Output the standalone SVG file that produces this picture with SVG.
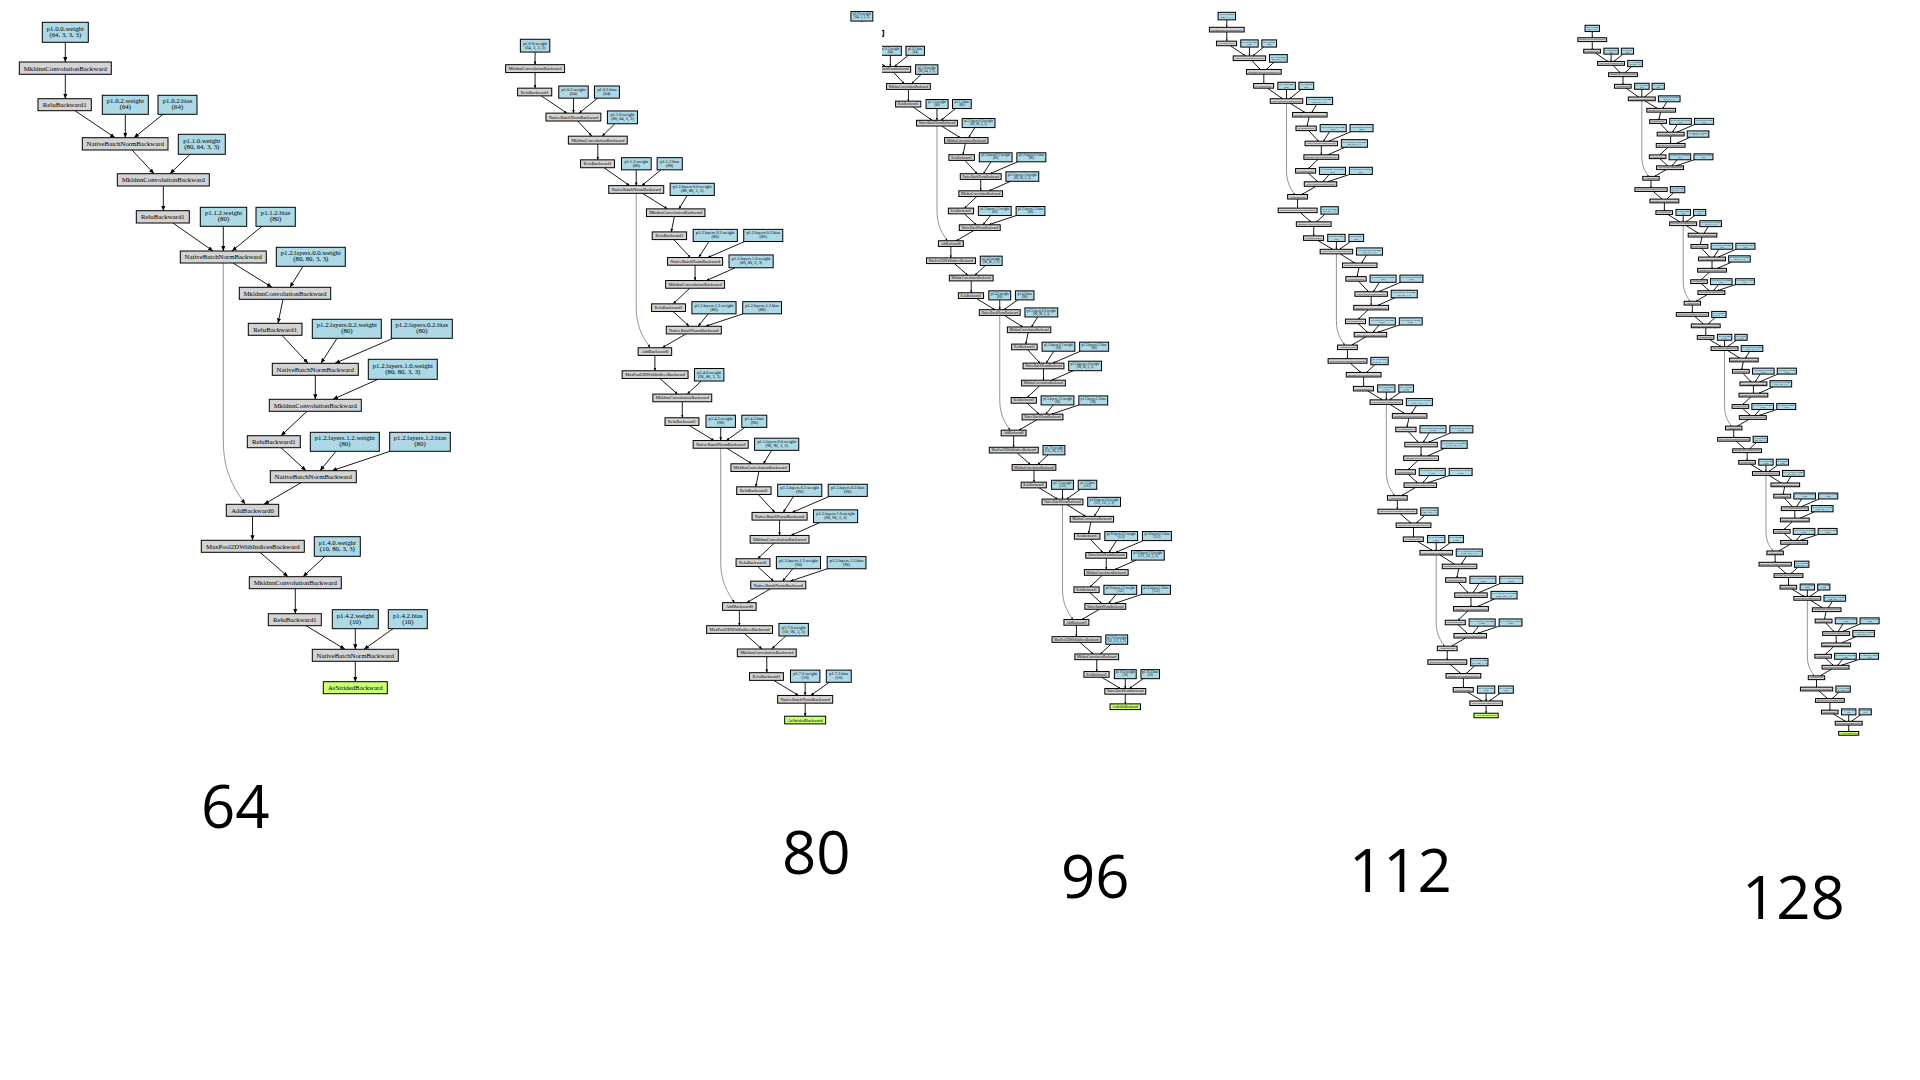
<svg xmlns="http://www.w3.org/2000/svg" xmlns:xlink="http://www.w3.org/1999/xlink" width="1920" height="1080" viewBox="0 0 1920 1080">
<style>
.o rect{fill:#d3d3d3;stroke:#000}
.p rect{fill:#add8e6;stroke:#000}
.a rect{fill:#caff70;stroke:#000}
text{font-family:"Liberation Serif","Times New Roman",serif;font-size:6.8px;text-anchor:middle;fill:#000}
text.num{font-family:"Open Sans","Noto Sans",sans-serif;font-size:60px;text-anchor:start}
</style>
<defs>
<marker id="ah" markerUnits="userSpaceOnUse" markerWidth="6" markerHeight="5" refX="5" refY="2.1" orient="auto"><path d="M0,0L5,2.1L0,4.2z" fill="#000" stroke="none"/></marker>
<clipPath id="clip3"><rect x="0" y="0" width="1920" height="22"/><rect x="882" y="0" width="1038" height="1080"/></clipPath>
<g id="EA" fill="none" stroke="#000" marker-end="url(#ah)">
<path d="M65.3,42.3V62"/><path d="M65.3,74.3V98.7"/><path d="M75,110.7L115,137.7"/><path d="M125.3,114.3V137.7"/><path d="M163,114.3L134,137.7"/><path d="M132,150L154,173.7"/><path d="M190,154.3L170,173.7"/><path d="M163.3,186V210.7"/><path d="M173,223L213,251"/><path d="M223.3,226.3V251"/><path d="M262,226.3L232,251"/>
</g>
<g id="EU" fill="none" stroke="#000" marker-end="url(#ah)">
<path d="M233,263L272,287.3"/><path d="M303,266.3L290,287.3"/><path d="M283,299.3L278,323.3"/><path d="M282,335.3L308,363.3"/><path d="M337,338.3L321,363.3"/><path d="M393,338.3L335,363.3"/><path d="M315.3,375.3V399.3"/><path d="M378,379.3L333,399.3"/><path d="M307,411.3L281,435.7"/><path d="M281,447.7L306,470.7"/><path d="M336,451.3L320,470.7"/><path d="M390,451.3L332,470.7"/><path d="M301,482.7L264,504.3"/><path stroke="#888" d="M223.3,263V440C223.3,475 236,490 245,504.3"/><path d="M252.5,516.3V540.3"/><path d="M260,552.3L288,576.7"/><path d="M325,556.3L303,576.7"/><path d="M295.3,588.7V613.7"/><path d="M306,625.7L345,649.3"/><path d="M355.3,628.7V649.3"/><path d="M393,628.7L364,649.3"/>
</g>
<g id="EF" fill="none" stroke="#000" marker-end="url(#ah)"><path d="M355.3,661.3V681.7"/></g>
</defs>
<rect x="0" y="0" width="1920" height="1080" fill="#fff"/>

<!-- ================= GRAPH 1 (64) ================= -->
<g id="graph64">
<g id="g1-edges" fill="none" stroke="#000" stroke-width="0.9" marker-end="url(#ah)">
<use xlink:href="#EA"/><use xlink:href="#EU"/><use xlink:href="#EF"/>
</g>
<g id="g1-nodes" stroke-width="1">
<g id="g1-w0" class="p"><rect x="42.3" y="22.3" width="46" height="20"/><text x="65.3" y="30.5">p1.0.0.weight</text><text x="65.3" y="36.8">(64, 3, 3, 3)</text></g>
<g id="g1-c1" class="o"><rect x="19.3" y="62" width="92" height="12.3"/><text x="65.3" y="70.5">MkldnnConvolutionBackward</text></g>
<g id="g1-r1" class="o"><rect x="38" y="98.7" width="53.3" height="12"/><text x="64.7" y="107.1">ReluBackward1</text></g>
<g id="g1-w1" class="p"><rect x="102.3" y="95.3" width="46" height="19"/><text x="125.3" y="103.1">p1.0.2.weight</text><text x="125.3" y="109.4">(64)</text></g>
<g id="g1-b1" class="p"><rect x="158" y="95.3" width="39" height="19"/><text x="177.5" y="103.1">p1.0.2.bias</text><text x="177.5" y="109.4">(64)</text></g>
<g id="g1-n1" class="o"><rect x="82.3" y="137.7" width="85.7" height="12.3"/><text x="125.2" y="146.1">NativeBatchNormBackward</text></g>
<g id="g1-w2" class="p"><rect x="178.3" y="134.3" width="47" height="20"/><text x="201.8" y="142.5">p1.1.0.weight</text><text x="201.8" y="148.8">(80, 64, 3, 3)</text></g>
<g id="g1-c2" class="o"><rect x="117.3" y="173.7" width="92" height="12.3"/><text x="163.3" y="182.1">MkldnnConvolutionBackward</text></g>
<g id="g1-r2" class="o"><rect x="136.3" y="210.7" width="53" height="12.3"/><text x="162.8" y="219.1">ReluBackward1</text></g>
<g id="g1-w3" class="p"><rect x="200.3" y="207.3" width="46.4" height="19"/><text x="223.5" y="215.1">p1.1.2.weight</text><text x="223.5" y="221.4">(80)</text></g>
<g id="g1-b3" class="p"><rect x="256" y="207.3" width="39.3" height="19"/><text x="275.6" y="215.1">p1.1.2.bias</text><text x="275.6" y="221.4">(80)</text></g>
<g id="g1-n2" class="o"><rect x="180.3" y="251" width="86" height="12"/><text x="223.3" y="259.4">NativeBatchNormBackward</text></g>
<g id="g1-u0">
<g id="g1-u0-w4" class="p"><rect x="276.3" y="247.3" width="69" height="19"/><text x="310.8" y="255.1">p1.2.layers.0.0.weight</text><text x="310.8" y="261.4">(80, 80, 3, 3)</text></g>
<g id="g1-u0-c3" class="o"><rect x="239.3" y="287.3" width="91.4" height="12"/><text x="285" y="295.7">MkldnnConvolutionBackward</text></g>
<g id="g1-u0-r3" class="o"><rect x="248.3" y="323.3" width="53.7" height="12"/><text x="275.2" y="331.7">ReluBackward1</text></g>
<g id="g1-u0-w5" class="p"><rect x="312.3" y="319.3" width="69" height="19"/><text x="346.8" y="327.1">p1.2.layers.0.2.weight</text><text x="346.8" y="333.4">(80)</text></g>
<g id="g1-u0-b5" class="p"><rect x="391.3" y="319.3" width="61" height="19"/><text x="421.8" y="327.1">p1.2.layers.0.2.bias</text><text x="421.8" y="333.4">(80)</text></g>
<g id="g1-u0-n3" class="o"><rect x="272.3" y="363.3" width="86" height="12"/><text x="315.3" y="371.7">NativeBatchNormBackward</text></g>
<g id="g1-u0-w6" class="p"><rect x="368.3" y="359.3" width="69" height="20"/><text x="402.8" y="367.5">p1.2.layers.1.0.weight</text><text x="402.8" y="373.8">(80, 80, 3, 3)</text></g>
<g id="g1-u0-c4" class="o"><rect x="269.3" y="399.3" width="92" height="12"/><text x="315.3" y="407.7">MkldnnConvolutionBackward</text></g>
<g id="g1-u0-r4" class="o"><rect x="247.3" y="435.7" width="53" height="12"/><text x="273.8" y="444.1">ReluBackward1</text></g>
<g id="g1-u0-w7" class="p"><rect x="310.3" y="432.3" width="69" height="19"/><text x="344.8" y="440.1">p1.2.layers.1.2.weight</text><text x="344.8" y="446.4">(80)</text></g>
<g id="g1-u0-b7" class="p"><rect x="389.7" y="432.3" width="60.6" height="19"/><text x="420" y="440.1">p1.2.layers.1.2.bias</text><text x="420" y="446.4">(80)</text></g>
<g id="g1-u0-n4" class="o"><rect x="270.3" y="470.7" width="86" height="12"/><text x="313.3" y="479.1">NativeBatchNormBackward</text></g>
<g id="g1-u0-add" class="o"><rect x="226.3" y="504.3" width="52.4" height="12"/><text x="252.5" y="512.7">AddBackward0</text></g>
<g id="g1-u0-mp" class="o"><rect x="201.3" y="540.3" width="103" height="12"/><text x="252.8" y="548.7">MaxPool2DWithIndicesBackward</text></g>
<g id="g1-u0-w8" class="p"><rect x="314.3" y="536.7" width="46" height="19.6"/><text x="337.3" y="544.7">p1.4.0.weight</text><text x="337.3" y="551">(10, 80, 3, 3)</text></g>
<g id="g1-u0-c5" class="o"><rect x="249.3" y="576.7" width="92" height="12"/><text x="295.3" y="585.1">MkldnnConvolutionBackward</text></g>
<g id="g1-u0-r5" class="o"><rect x="268.3" y="613.7" width="53" height="12"/><text x="294.8" y="622.1">ReluBackward1</text></g>
<g id="g1-u0-w9" class="p"><rect x="332.3" y="609.7" width="46" height="19"/><text x="355.3" y="617.5">p1.4.2.weight</text><text x="355.3" y="623.8">(10)</text></g>
<g id="g1-u0-b9" class="p"><rect x="388.3" y="609.7" width="39" height="19"/><text x="407.8" y="617.5">p1.4.2.bias</text><text x="407.8" y="623.8">(10)</text></g>
<g id="g1-u0-n5" class="o"><rect x="312.3" y="649.3" width="86" height="12"/><text x="355.3" y="657.7">NativeBatchNormBackward</text></g>
<g id="g1-as" class="a"><rect x="323.3" y="681.7" width="64" height="12"/><text x="355.3" y="690.1">AsStridedBackward</text></g>
</g>
</g>
</g>

<!-- ================= GRAPH 2 (80) ================= -->
<g id="graph80" transform="translate(493.3,25) scale(0.64)">
<g id="g2-edges" fill="none" stroke="#000" stroke-width="1.4" marker-end="url(#ah)">
<use xlink:href="#EA"/><use xlink:href="#EU"/><use xlink:href="#EU" transform="translate(132,398.3)"/><use xlink:href="#EF" transform="translate(132,398.3)"/>
</g>
<g id="g2-nodes" stroke-width="1.56">
<g id="g2-w0" class="p"><rect x="42.3" y="22.3" width="46" height="20"/><text x="65.3" y="30.5">p1.0.0.weight</text><text x="65.3" y="36.8">(64, 3, 3, 3)</text></g>
<g id="g2-c1" class="o"><rect x="19.3" y="62" width="92" height="12.3"/><text x="65.3" y="70.5">MkldnnConvolutionBackward</text></g>
<g id="g2-r1" class="o"><rect x="38" y="98.7" width="53.3" height="12"/><text x="64.7" y="107.1">ReluBackward1</text></g>
<g id="g2-w1" class="p"><rect x="102.3" y="95.3" width="46" height="19"/><text x="125.3" y="103.1">p1.0.2.weight</text><text x="125.3" y="109.4">(64)</text></g>
<g id="g2-b1" class="p"><rect x="158" y="95.3" width="39" height="19"/><text x="177.5" y="103.1">p1.0.2.bias</text><text x="177.5" y="109.4">(64)</text></g>
<g id="g2-n1" class="o"><rect x="82.3" y="137.7" width="85.7" height="12.3"/><text x="125.2" y="146.1">NativeBatchNormBackward</text></g>
<g id="g2-w2" class="p"><rect x="178.3" y="134.3" width="47" height="20"/><text x="201.8" y="142.5">p1.1.0.weight</text><text x="201.8" y="148.8">(80, 64, 3, 3)</text></g>
<g id="g2-c2" class="o"><rect x="117.3" y="173.7" width="92" height="12.3"/><text x="163.3" y="182.1">MkldnnConvolutionBackward</text></g>
<g id="g2-r2" class="o"><rect x="136.3" y="210.7" width="53" height="12.3"/><text x="162.8" y="219.1">ReluBackward1</text></g>
<g id="g2-w3" class="p"><rect x="200.3" y="207.3" width="46.4" height="19"/><text x="223.5" y="215.1">p1.1.2.weight</text><text x="223.5" y="221.4">(80)</text></g>
<g id="g2-b3" class="p"><rect x="256" y="207.3" width="39.3" height="19"/><text x="275.6" y="215.1">p1.1.2.bias</text><text x="275.6" y="221.4">(80)</text></g>
<g id="g2-n2" class="o"><rect x="180.3" y="251" width="86" height="12"/><text x="223.3" y="259.4">NativeBatchNormBackward</text></g>
<g id="g2-u0">
<g id="g2-u0-w4" class="p"><rect x="276.3" y="247.3" width="69" height="19"/><text x="310.8" y="255.1">p1.2.layers.0.0.weight</text><text x="310.8" y="261.4">(80, 80, 3, 3)</text></g>
<g id="g2-u0-c3" class="o"><rect x="239.3" y="287.3" width="91.4" height="12"/><text x="285" y="295.7">MkldnnConvolutionBackward</text></g>
<g id="g2-u0-r3" class="o"><rect x="248.3" y="323.3" width="53.7" height="12"/><text x="275.2" y="331.7">ReluBackward1</text></g>
<g id="g2-u0-w5" class="p"><rect x="312.3" y="319.3" width="69" height="19"/><text x="346.8" y="327.1">p1.2.layers.0.2.weight</text><text x="346.8" y="333.4">(80)</text></g>
<g id="g2-u0-b5" class="p"><rect x="391.3" y="319.3" width="61" height="19"/><text x="421.8" y="327.1">p1.2.layers.0.2.bias</text><text x="421.8" y="333.4">(80)</text></g>
<g id="g2-u0-n3" class="o"><rect x="272.3" y="363.3" width="86" height="12"/><text x="315.3" y="371.7">NativeBatchNormBackward</text></g>
<g id="g2-u0-w6" class="p"><rect x="368.3" y="359.3" width="69" height="20"/><text x="402.8" y="367.5">p1.2.layers.1.0.weight</text><text x="402.8" y="373.8">(80, 80, 3, 3)</text></g>
<g id="g2-u0-c4" class="o"><rect x="269.3" y="399.3" width="92" height="12"/><text x="315.3" y="407.7">MkldnnConvolutionBackward</text></g>
<g id="g2-u0-r4" class="o"><rect x="247.3" y="435.7" width="53" height="12"/><text x="273.8" y="444.1">ReluBackward1</text></g>
<g id="g2-u0-w7" class="p"><rect x="310.3" y="432.3" width="69" height="19"/><text x="344.8" y="440.1">p1.2.layers.1.2.weight</text><text x="344.8" y="446.4">(80)</text></g>
<g id="g2-u0-b7" class="p"><rect x="389.7" y="432.3" width="60.6" height="19"/><text x="420" y="440.1">p1.2.layers.1.2.bias</text><text x="420" y="446.4">(80)</text></g>
<g id="g2-u0-n4" class="o"><rect x="270.3" y="470.7" width="86" height="12"/><text x="313.3" y="479.1">NativeBatchNormBackward</text></g>
<g id="g2-u0-add" class="o"><rect x="226.3" y="504.3" width="52.4" height="12"/><text x="252.5" y="512.7">AddBackward0</text></g>
<g id="g2-u0-mp" class="o"><rect x="201.3" y="540.3" width="103" height="12"/><text x="252.8" y="548.7">MaxPool2DWithIndicesBackward</text></g>
<g id="g2-u0-w8" class="p"><rect x="314.3" y="536.7" width="46" height="19.6"/><text x="337.3" y="544.7">p1.4.0.weight</text><text x="337.3" y="551">(96, 80, 3, 3)</text></g>
<g id="g2-u0-c5" class="o"><rect x="249.3" y="576.7" width="92" height="12"/><text x="295.3" y="585.1">MkldnnConvolutionBackward</text></g>
<g id="g2-u0-r5" class="o"><rect x="268.3" y="613.7" width="53" height="12"/><text x="294.8" y="622.1">ReluBackward1</text></g>
<g id="g2-u0-w9" class="p"><rect x="332.3" y="609.7" width="46" height="19"/><text x="355.3" y="617.5">p1.4.2.weight</text><text x="355.3" y="623.8">(96)</text></g>
<g id="g2-u0-b9" class="p"><rect x="388.3" y="609.7" width="39" height="19"/><text x="407.8" y="617.5">p1.4.2.bias</text><text x="407.8" y="623.8">(96)</text></g>
<g id="g2-u0-n5" class="o"><rect x="312.3" y="649.3" width="86" height="12"/><text x="355.3" y="657.7">NativeBatchNormBackward</text></g>
</g>
<g id="g2-u1" transform="translate(132,398.3)">
<g id="g2-u1-w4" class="p"><rect x="276.3" y="247.3" width="69" height="19"/><text x="310.8" y="255.1">p1.5.layers.0.0.weight</text><text x="310.8" y="261.4">(96, 96, 3, 3)</text></g>
<g id="g2-u1-c3" class="o"><rect x="239.3" y="287.3" width="91.4" height="12"/><text x="285" y="295.7">MkldnnConvolutionBackward</text></g>
<g id="g2-u1-r3" class="o"><rect x="248.3" y="323.3" width="53.7" height="12"/><text x="275.2" y="331.7">ReluBackward1</text></g>
<g id="g2-u1-w5" class="p"><rect x="312.3" y="319.3" width="69" height="19"/><text x="346.8" y="327.1">p1.5.layers.0.2.weight</text><text x="346.8" y="333.4">(96)</text></g>
<g id="g2-u1-b5" class="p"><rect x="391.3" y="319.3" width="61" height="19"/><text x="421.8" y="327.1">p1.5.layers.0.2.bias</text><text x="421.8" y="333.4">(96)</text></g>
<g id="g2-u1-n3" class="o"><rect x="272.3" y="363.3" width="86" height="12"/><text x="315.3" y="371.7">NativeBatchNormBackward</text></g>
<g id="g2-u1-w6" class="p"><rect x="368.3" y="359.3" width="69" height="20"/><text x="402.8" y="367.5">p1.5.layers.1.0.weight</text><text x="402.8" y="373.8">(96, 96, 3, 3)</text></g>
<g id="g2-u1-c4" class="o"><rect x="269.3" y="399.3" width="92" height="12"/><text x="315.3" y="407.7">MkldnnConvolutionBackward</text></g>
<g id="g2-u1-r4" class="o"><rect x="247.3" y="435.7" width="53" height="12"/><text x="273.8" y="444.1">ReluBackward1</text></g>
<g id="g2-u1-w7" class="p"><rect x="310.3" y="432.3" width="69" height="19"/><text x="344.8" y="440.1">p1.5.layers.1.2.weight</text><text x="344.8" y="446.4">(96)</text></g>
<g id="g2-u1-b7" class="p"><rect x="389.7" y="432.3" width="60.6" height="19"/><text x="420" y="440.1">p1.5.layers.1.2.bias</text><text x="420" y="446.4">(96)</text></g>
<g id="g2-u1-n4" class="o"><rect x="270.3" y="470.7" width="86" height="12"/><text x="313.3" y="479.1">NativeBatchNormBackward</text></g>
<g id="g2-u1-add" class="o"><rect x="226.3" y="504.3" width="52.4" height="12"/><text x="252.5" y="512.7">AddBackward0</text></g>
<g id="g2-u1-mp" class="o"><rect x="201.3" y="540.3" width="103" height="12"/><text x="252.8" y="548.7">MaxPool2DWithIndicesBackward</text></g>
<g id="g2-u1-w8" class="p"><rect x="314.3" y="536.7" width="46" height="19.6"/><text x="337.3" y="544.7">p1.7.0.weight</text><text x="337.3" y="551">(10, 96, 3, 3)</text></g>
<g id="g2-u1-c5" class="o"><rect x="249.3" y="576.7" width="92" height="12"/><text x="295.3" y="585.1">MkldnnConvolutionBackward</text></g>
<g id="g2-u1-r5" class="o"><rect x="268.3" y="613.7" width="53" height="12"/><text x="294.8" y="622.1">ReluBackward1</text></g>
<g id="g2-u1-w9" class="p"><rect x="332.3" y="609.7" width="46" height="19"/><text x="355.3" y="617.5">p1.7.2.weight</text><text x="355.3" y="623.8">(10)</text></g>
<g id="g2-u1-b9" class="p"><rect x="388.3" y="609.7" width="39" height="19"/><text x="407.8" y="617.5">p1.7.2.bias</text><text x="407.8" y="623.8">(10)</text></g>
<g id="g2-u1-n5" class="o"><rect x="312.3" y="649.3" width="86" height="12"/><text x="355.3" y="657.7">NativeBatchNormBackward</text></g>
<g id="g2-as" class="a"><rect x="323.3" y="681.7" width="64" height="12"/><text x="355.3" y="690.1">AsStridedBackward</text></g>
</g>
</g>
</g>

<!-- ================= GRAPH 3 (96) ================= -->
<g clip-path="url(#clip3)">
<g id="graph96" transform="translate(830.8,0.95) scale(0.4755)">
<g id="g3-edges" fill="none" stroke="#000" stroke-width="1.9" marker-end="url(#ah)">
<use xlink:href="#EA"/><use xlink:href="#EU"/><use xlink:href="#EU" transform="translate(132,398.3)"/><use xlink:href="#EU" transform="translate(264,796.6)"/><use xlink:href="#EF" transform="translate(264,796.6)"/>
</g>
<g id="g3-nodes" stroke-width="2.1">
<g id="g3-w0" class="p"><rect x="42.3" y="22.3" width="46" height="20"/><text x="65.3" y="30.5">p1.0.0.weight</text><text x="65.3" y="36.8">(64, 3, 3, 3)</text></g>
<g id="g3-c1" class="o"><rect x="19.3" y="62" width="92" height="12.3"/><text x="65.3" y="70.5">MkldnnConvolutionBackward</text></g>
<g id="g3-r1" class="o"><rect x="38" y="98.7" width="53.3" height="12"/><text x="64.7" y="107.1">ReluBackward1</text></g>
<g id="g3-w1" class="p"><rect x="102.3" y="95.3" width="46" height="19"/><text x="125.3" y="103.1">p1.0.2.weight</text><text x="125.3" y="109.4">(64)</text></g>
<g id="g3-b1" class="p"><rect x="158" y="95.3" width="39" height="19"/><text x="177.5" y="103.1">p1.0.2.bias</text><text x="177.5" y="109.4">(64)</text></g>
<g id="g3-n1" class="o"><rect x="82.3" y="137.7" width="85.7" height="12.3"/><text x="125.2" y="146.1">NativeBatchNormBackward</text></g>
<g id="g3-w2" class="p"><rect x="178.3" y="134.3" width="47" height="20"/><text x="201.8" y="142.5">p1.1.0.weight</text><text x="201.8" y="148.8">(80, 64, 3, 3)</text></g>
<g id="g3-c2" class="o"><rect x="117.3" y="173.7" width="92" height="12.3"/><text x="163.3" y="182.1">MkldnnConvolutionBackward</text></g>
<g id="g3-r2" class="o"><rect x="136.3" y="210.7" width="53" height="12.3"/><text x="162.8" y="219.1">ReluBackward1</text></g>
<g id="g3-w3" class="p"><rect x="200.3" y="207.3" width="46.4" height="19"/><text x="223.5" y="215.1">p1.1.2.weight</text><text x="223.5" y="221.4">(80)</text></g>
<g id="g3-b3" class="p"><rect x="256" y="207.3" width="39.3" height="19"/><text x="275.6" y="215.1">p1.1.2.bias</text><text x="275.6" y="221.4">(80)</text></g>
<g id="g3-n2" class="o"><rect x="180.3" y="251" width="86" height="12"/><text x="223.3" y="259.4">NativeBatchNormBackward</text></g>
<g id="g3-u0">
<g id="g3-u0-w4" class="p"><rect x="276.3" y="247.3" width="69" height="19"/><text x="310.8" y="255.1">p1.2.layers.0.0.weight</text><text x="310.8" y="261.4">(80, 80, 3, 3)</text></g>
<g id="g3-u0-c3" class="o"><rect x="239.3" y="287.3" width="91.4" height="12"/><text x="285" y="295.7">MkldnnConvolutionBackward</text></g>
<g id="g3-u0-r3" class="o"><rect x="248.3" y="323.3" width="53.7" height="12"/><text x="275.2" y="331.7">ReluBackward1</text></g>
<g id="g3-u0-w5" class="p"><rect x="312.3" y="319.3" width="69" height="19"/><text x="346.8" y="327.1">p1.2.layers.0.2.weight</text><text x="346.8" y="333.4">(80)</text></g>
<g id="g3-u0-b5" class="p"><rect x="391.3" y="319.3" width="61" height="19"/><text x="421.8" y="327.1">p1.2.layers.0.2.bias</text><text x="421.8" y="333.4">(80)</text></g>
<g id="g3-u0-n3" class="o"><rect x="272.3" y="363.3" width="86" height="12"/><text x="315.3" y="371.7">NativeBatchNormBackward</text></g>
<g id="g3-u0-w6" class="p"><rect x="368.3" y="359.3" width="69" height="20"/><text x="402.8" y="367.5">p1.2.layers.1.0.weight</text><text x="402.8" y="373.8">(80, 80, 3, 3)</text></g>
<g id="g3-u0-c4" class="o"><rect x="269.3" y="399.3" width="92" height="12"/><text x="315.3" y="407.7">MkldnnConvolutionBackward</text></g>
<g id="g3-u0-r4" class="o"><rect x="247.3" y="435.7" width="53" height="12"/><text x="273.8" y="444.1">ReluBackward1</text></g>
<g id="g3-u0-w7" class="p"><rect x="310.3" y="432.3" width="69" height="19"/><text x="344.8" y="440.1">p1.2.layers.1.2.weight</text><text x="344.8" y="446.4">(80)</text></g>
<g id="g3-u0-b7" class="p"><rect x="389.7" y="432.3" width="60.6" height="19"/><text x="420" y="440.1">p1.2.layers.1.2.bias</text><text x="420" y="446.4">(80)</text></g>
<g id="g3-u0-n4" class="o"><rect x="270.3" y="470.7" width="86" height="12"/><text x="313.3" y="479.1">NativeBatchNormBackward</text></g>
<g id="g3-u0-add" class="o"><rect x="226.3" y="504.3" width="52.4" height="12"/><text x="252.5" y="512.7">AddBackward0</text></g>
<g id="g3-u0-mp" class="o"><rect x="201.3" y="540.3" width="103" height="12"/><text x="252.8" y="548.7">MaxPool2DWithIndicesBackward</text></g>
<g id="g3-u0-w8" class="p"><rect x="314.3" y="536.7" width="46" height="19.6"/><text x="337.3" y="544.7">p1.4.0.weight</text><text x="337.3" y="551">(96, 80, 3, 3)</text></g>
<g id="g3-u0-c5" class="o"><rect x="249.3" y="576.7" width="92" height="12"/><text x="295.3" y="585.1">MkldnnConvolutionBackward</text></g>
<g id="g3-u0-r5" class="o"><rect x="268.3" y="613.7" width="53" height="12"/><text x="294.8" y="622.1">ReluBackward1</text></g>
<g id="g3-u0-w9" class="p"><rect x="332.3" y="609.7" width="46" height="19"/><text x="355.3" y="617.5">p1.4.2.weight</text><text x="355.3" y="623.8">(96)</text></g>
<g id="g3-u0-b9" class="p"><rect x="388.3" y="609.7" width="39" height="19"/><text x="407.8" y="617.5">p1.4.2.bias</text><text x="407.8" y="623.8">(96)</text></g>
<g id="g3-u0-n5" class="o"><rect x="312.3" y="649.3" width="86" height="12"/><text x="355.3" y="657.7">NativeBatchNormBackward</text></g>
</g>
<g id="g3-u1" transform="translate(132,398.3)">
<g id="g3-u1-w4" class="p"><rect x="276.3" y="247.3" width="69" height="19"/><text x="310.8" y="255.1">p1.5.layers.0.0.weight</text><text x="310.8" y="261.4">(96, 96, 3, 3)</text></g>
<g id="g3-u1-c3" class="o"><rect x="239.3" y="287.3" width="91.4" height="12"/><text x="285" y="295.7">MkldnnConvolutionBackward</text></g>
<g id="g3-u1-r3" class="o"><rect x="248.3" y="323.3" width="53.7" height="12"/><text x="275.2" y="331.7">ReluBackward1</text></g>
<g id="g3-u1-w5" class="p"><rect x="312.3" y="319.3" width="69" height="19"/><text x="346.8" y="327.1">p1.5.layers.0.2.weight</text><text x="346.8" y="333.4">(96)</text></g>
<g id="g3-u1-b5" class="p"><rect x="391.3" y="319.3" width="61" height="19"/><text x="421.8" y="327.1">p1.5.layers.0.2.bias</text><text x="421.8" y="333.4">(96)</text></g>
<g id="g3-u1-n3" class="o"><rect x="272.3" y="363.3" width="86" height="12"/><text x="315.3" y="371.7">NativeBatchNormBackward</text></g>
<g id="g3-u1-w6" class="p"><rect x="368.3" y="359.3" width="69" height="20"/><text x="402.8" y="367.5">p1.5.layers.1.0.weight</text><text x="402.8" y="373.8">(96, 96, 3, 3)</text></g>
<g id="g3-u1-c4" class="o"><rect x="269.3" y="399.3" width="92" height="12"/><text x="315.3" y="407.7">MkldnnConvolutionBackward</text></g>
<g id="g3-u1-r4" class="o"><rect x="247.3" y="435.7" width="53" height="12"/><text x="273.8" y="444.1">ReluBackward1</text></g>
<g id="g3-u1-w7" class="p"><rect x="310.3" y="432.3" width="69" height="19"/><text x="344.8" y="440.1">p1.5.layers.1.2.weight</text><text x="344.8" y="446.4">(96)</text></g>
<g id="g3-u1-b7" class="p"><rect x="389.7" y="432.3" width="60.6" height="19"/><text x="420" y="440.1">p1.5.layers.1.2.bias</text><text x="420" y="446.4">(96)</text></g>
<g id="g3-u1-n4" class="o"><rect x="270.3" y="470.7" width="86" height="12"/><text x="313.3" y="479.1">NativeBatchNormBackward</text></g>
<g id="g3-u1-add" class="o"><rect x="226.3" y="504.3" width="52.4" height="12"/><text x="252.5" y="512.7">AddBackward0</text></g>
<g id="g3-u1-mp" class="o"><rect x="201.3" y="540.3" width="103" height="12"/><text x="252.8" y="548.7">MaxPool2DWithIndicesBackward</text></g>
<g id="g3-u1-w8" class="p"><rect x="314.3" y="536.7" width="46" height="19.6"/><text x="337.3" y="544.7">p1.7.0.weight</text><text x="337.3" y="551">(112, 96, 3, 3)</text></g>
<g id="g3-u1-c5" class="o"><rect x="249.3" y="576.7" width="92" height="12"/><text x="295.3" y="585.1">MkldnnConvolutionBackward</text></g>
<g id="g3-u1-r5" class="o"><rect x="268.3" y="613.7" width="53" height="12"/><text x="294.8" y="622.1">ReluBackward1</text></g>
<g id="g3-u1-w9" class="p"><rect x="332.3" y="609.7" width="46" height="19"/><text x="355.3" y="617.5">p1.7.2.weight</text><text x="355.3" y="623.8">(112)</text></g>
<g id="g3-u1-b9" class="p"><rect x="388.3" y="609.7" width="39" height="19"/><text x="407.8" y="617.5">p1.7.2.bias</text><text x="407.8" y="623.8">(112)</text></g>
<g id="g3-u1-n5" class="o"><rect x="312.3" y="649.3" width="86" height="12"/><text x="355.3" y="657.7">NativeBatchNormBackward</text></g>
</g>
<g id="g3-u2" transform="translate(264,796.6)">
<g id="g3-u2-w4" class="p"><rect x="276.3" y="247.3" width="69" height="19"/><text x="310.8" y="255.1">p1.8.layers.0.0.weight</text><text x="310.8" y="261.4">(112, 112, 3, 3)</text></g>
<g id="g3-u2-c3" class="o"><rect x="239.3" y="287.3" width="91.4" height="12"/><text x="285" y="295.7">MkldnnConvolutionBackward</text></g>
<g id="g3-u2-r3" class="o"><rect x="248.3" y="323.3" width="53.7" height="12"/><text x="275.2" y="331.7">ReluBackward1</text></g>
<g id="g3-u2-w5" class="p"><rect x="312.3" y="319.3" width="69" height="19"/><text x="346.8" y="327.1">p1.8.layers.0.2.weight</text><text x="346.8" y="333.4">(112)</text></g>
<g id="g3-u2-b5" class="p"><rect x="391.3" y="319.3" width="61" height="19"/><text x="421.8" y="327.1">p1.8.layers.0.2.bias</text><text x="421.8" y="333.4">(112)</text></g>
<g id="g3-u2-n3" class="o"><rect x="272.3" y="363.3" width="86" height="12"/><text x="315.3" y="371.7">NativeBatchNormBackward</text></g>
<g id="g3-u2-w6" class="p"><rect x="368.3" y="359.3" width="69" height="20"/><text x="402.8" y="367.5">p1.8.layers.1.0.weight</text><text x="402.8" y="373.8">(112, 112, 3, 3)</text></g>
<g id="g3-u2-c4" class="o"><rect x="269.3" y="399.3" width="92" height="12"/><text x="315.3" y="407.7">MkldnnConvolutionBackward</text></g>
<g id="g3-u2-r4" class="o"><rect x="247.3" y="435.7" width="53" height="12"/><text x="273.8" y="444.1">ReluBackward1</text></g>
<g id="g3-u2-w7" class="p"><rect x="310.3" y="432.3" width="69" height="19"/><text x="344.8" y="440.1">p1.8.layers.1.2.weight</text><text x="344.8" y="446.4">(112)</text></g>
<g id="g3-u2-b7" class="p"><rect x="389.7" y="432.3" width="60.6" height="19"/><text x="420" y="440.1">p1.8.layers.1.2.bias</text><text x="420" y="446.4">(112)</text></g>
<g id="g3-u2-n4" class="o"><rect x="270.3" y="470.7" width="86" height="12"/><text x="313.3" y="479.1">NativeBatchNormBackward</text></g>
<g id="g3-u2-add" class="o"><rect x="226.3" y="504.3" width="52.4" height="12"/><text x="252.5" y="512.7">AddBackward0</text></g>
<g id="g3-u2-mp" class="o"><rect x="201.3" y="540.3" width="103" height="12"/><text x="252.8" y="548.7">MaxPool2DWithIndicesBackward</text></g>
<g id="g3-u2-w8" class="p"><rect x="314.3" y="536.7" width="46" height="19.6"/><text x="337.3" y="544.7">p1.10.0.weight</text><text x="337.3" y="551">(10, 112, 3, 3)</text></g>
<g id="g3-u2-c5" class="o"><rect x="249.3" y="576.7" width="92" height="12"/><text x="295.3" y="585.1">MkldnnConvolutionBackward</text></g>
<g id="g3-u2-r5" class="o"><rect x="268.3" y="613.7" width="53" height="12"/><text x="294.8" y="622.1">ReluBackward1</text></g>
<g id="g3-u2-w9" class="p"><rect x="332.3" y="609.7" width="46" height="19"/><text x="355.3" y="617.5">p1.10.2.weight</text><text x="355.3" y="623.8">(10)</text></g>
<g id="g3-u2-b9" class="p"><rect x="388.3" y="609.7" width="39" height="19"/><text x="407.8" y="617.5">p1.10.2.bias</text><text x="407.8" y="623.8">(10)</text></g>
<g id="g3-u2-n5" class="o"><rect x="312.3" y="649.3" width="86" height="12"/><text x="355.3" y="657.7">NativeBatchNormBackward</text></g>
<g id="g3-as" class="a"><rect x="323.3" y="681.7" width="64" height="12"/><text x="355.3" y="690.1">AsStridedBackward</text></g>
</g>
</g>
</g>
</g>

<!-- ================= GRAPH 4 (112) ================= -->
<g id="graph112" transform="translate(1202.1,3.87) scale(0.378)">
<g id="g4-edges" fill="none" stroke="#000" stroke-width="2.4" marker-end="url(#ah)">
<use xlink:href="#EA"/><use xlink:href="#EU"/><use xlink:href="#EU" transform="translate(132,398.3)"/><use xlink:href="#EU" transform="translate(264,796.6)"/><use xlink:href="#EU" transform="translate(396,1194.9)"/><use xlink:href="#EF" transform="translate(396,1194.9)"/>
</g>
<g id="g4-nodes" stroke-width="2.65">
<g id="g4-w0" class="p"><rect x="42.3" y="22.3" width="46" height="20"/><text x="65.3" y="30.5">p1.0.0.weight</text><text x="65.3" y="36.8">(64, 3, 3, 3)</text></g>
<g id="g4-c1" class="o"><rect x="19.3" y="62" width="92" height="12.3"/><text x="65.3" y="70.5">MkldnnConvolutionBackward</text></g>
<g id="g4-r1" class="o"><rect x="38" y="98.7" width="53.3" height="12"/><text x="64.7" y="107.1">ReluBackward1</text></g>
<g id="g4-w1" class="p"><rect x="102.3" y="95.3" width="46" height="19"/><text x="125.3" y="103.1">p1.0.2.weight</text><text x="125.3" y="109.4">(64)</text></g>
<g id="g4-b1" class="p"><rect x="158" y="95.3" width="39" height="19"/><text x="177.5" y="103.1">p1.0.2.bias</text><text x="177.5" y="109.4">(64)</text></g>
<g id="g4-n1" class="o"><rect x="82.3" y="137.7" width="85.7" height="12.3"/><text x="125.2" y="146.1">NativeBatchNormBackward</text></g>
<g id="g4-w2" class="p"><rect x="178.3" y="134.3" width="47" height="20"/><text x="201.8" y="142.5">p1.1.0.weight</text><text x="201.8" y="148.8">(80, 64, 3, 3)</text></g>
<g id="g4-c2" class="o"><rect x="117.3" y="173.7" width="92" height="12.3"/><text x="163.3" y="182.1">MkldnnConvolutionBackward</text></g>
<g id="g4-r2" class="o"><rect x="136.3" y="210.7" width="53" height="12.3"/><text x="162.8" y="219.1">ReluBackward1</text></g>
<g id="g4-w3" class="p"><rect x="200.3" y="207.3" width="46.4" height="19"/><text x="223.5" y="215.1">p1.1.2.weight</text><text x="223.5" y="221.4">(80)</text></g>
<g id="g4-b3" class="p"><rect x="256" y="207.3" width="39.3" height="19"/><text x="275.6" y="215.1">p1.1.2.bias</text><text x="275.6" y="221.4">(80)</text></g>
<g id="g4-n2" class="o"><rect x="180.3" y="251" width="86" height="12"/><text x="223.3" y="259.4">NativeBatchNormBackward</text></g>
<g id="g4-u0">
<g id="g4-u0-w4" class="p"><rect x="276.3" y="247.3" width="69" height="19"/><text x="310.8" y="255.1">p1.2.layers.0.0.weight</text><text x="310.8" y="261.4">(80, 80, 3, 3)</text></g>
<g id="g4-u0-c3" class="o"><rect x="239.3" y="287.3" width="91.4" height="12"/><text x="285" y="295.7">MkldnnConvolutionBackward</text></g>
<g id="g4-u0-r3" class="o"><rect x="248.3" y="323.3" width="53.7" height="12"/><text x="275.2" y="331.7">ReluBackward1</text></g>
<g id="g4-u0-w5" class="p"><rect x="312.3" y="319.3" width="69" height="19"/><text x="346.8" y="327.1">p1.2.layers.0.2.weight</text><text x="346.8" y="333.4">(80)</text></g>
<g id="g4-u0-b5" class="p"><rect x="391.3" y="319.3" width="61" height="19"/><text x="421.8" y="327.1">p1.2.layers.0.2.bias</text><text x="421.8" y="333.4">(80)</text></g>
<g id="g4-u0-n3" class="o"><rect x="272.3" y="363.3" width="86" height="12"/><text x="315.3" y="371.7">NativeBatchNormBackward</text></g>
<g id="g4-u0-w6" class="p"><rect x="368.3" y="359.3" width="69" height="20"/><text x="402.8" y="367.5">p1.2.layers.1.0.weight</text><text x="402.8" y="373.8">(80, 80, 3, 3)</text></g>
<g id="g4-u0-c4" class="o"><rect x="269.3" y="399.3" width="92" height="12"/><text x="315.3" y="407.7">MkldnnConvolutionBackward</text></g>
<g id="g4-u0-r4" class="o"><rect x="247.3" y="435.7" width="53" height="12"/><text x="273.8" y="444.1">ReluBackward1</text></g>
<g id="g4-u0-w7" class="p"><rect x="310.3" y="432.3" width="69" height="19"/><text x="344.8" y="440.1">p1.2.layers.1.2.weight</text><text x="344.8" y="446.4">(80)</text></g>
<g id="g4-u0-b7" class="p"><rect x="389.7" y="432.3" width="60.6" height="19"/><text x="420" y="440.1">p1.2.layers.1.2.bias</text><text x="420" y="446.4">(80)</text></g>
<g id="g4-u0-n4" class="o"><rect x="270.3" y="470.7" width="86" height="12"/><text x="313.3" y="479.1">NativeBatchNormBackward</text></g>
<g id="g4-u0-add" class="o"><rect x="226.3" y="504.3" width="52.4" height="12"/><text x="252.5" y="512.7">AddBackward0</text></g>
<g id="g4-u0-mp" class="o"><rect x="201.3" y="540.3" width="103" height="12"/><text x="252.8" y="548.7">MaxPool2DWithIndicesBackward</text></g>
<g id="g4-u0-w8" class="p"><rect x="314.3" y="536.7" width="46" height="19.6"/><text x="337.3" y="544.7">p1.4.0.weight</text><text x="337.3" y="551">(96, 80, 3, 3)</text></g>
<g id="g4-u0-c5" class="o"><rect x="249.3" y="576.7" width="92" height="12"/><text x="295.3" y="585.1">MkldnnConvolutionBackward</text></g>
<g id="g4-u0-r5" class="o"><rect x="268.3" y="613.7" width="53" height="12"/><text x="294.8" y="622.1">ReluBackward1</text></g>
<g id="g4-u0-w9" class="p"><rect x="332.3" y="609.7" width="46" height="19"/><text x="355.3" y="617.5">p1.4.2.weight</text><text x="355.3" y="623.8">(96)</text></g>
<g id="g4-u0-b9" class="p"><rect x="388.3" y="609.7" width="39" height="19"/><text x="407.8" y="617.5">p1.4.2.bias</text><text x="407.8" y="623.8">(96)</text></g>
<g id="g4-u0-n5" class="o"><rect x="312.3" y="649.3" width="86" height="12"/><text x="355.3" y="657.7">NativeBatchNormBackward</text></g>
</g>
<g id="g4-u1" transform="translate(132,398.3)">
<g id="g4-u1-w4" class="p"><rect x="276.3" y="247.3" width="69" height="19"/><text x="310.8" y="255.1">p1.5.layers.0.0.weight</text><text x="310.8" y="261.4">(96, 96, 3, 3)</text></g>
<g id="g4-u1-c3" class="o"><rect x="239.3" y="287.3" width="91.4" height="12"/><text x="285" y="295.7">MkldnnConvolutionBackward</text></g>
<g id="g4-u1-r3" class="o"><rect x="248.3" y="323.3" width="53.7" height="12"/><text x="275.2" y="331.7">ReluBackward1</text></g>
<g id="g4-u1-w5" class="p"><rect x="312.3" y="319.3" width="69" height="19"/><text x="346.8" y="327.1">p1.5.layers.0.2.weight</text><text x="346.8" y="333.4">(96)</text></g>
<g id="g4-u1-b5" class="p"><rect x="391.3" y="319.3" width="61" height="19"/><text x="421.8" y="327.1">p1.5.layers.0.2.bias</text><text x="421.8" y="333.4">(96)</text></g>
<g id="g4-u1-n3" class="o"><rect x="272.3" y="363.3" width="86" height="12"/><text x="315.3" y="371.7">NativeBatchNormBackward</text></g>
<g id="g4-u1-w6" class="p"><rect x="368.3" y="359.3" width="69" height="20"/><text x="402.8" y="367.5">p1.5.layers.1.0.weight</text><text x="402.8" y="373.8">(96, 96, 3, 3)</text></g>
<g id="g4-u1-c4" class="o"><rect x="269.3" y="399.3" width="92" height="12"/><text x="315.3" y="407.7">MkldnnConvolutionBackward</text></g>
<g id="g4-u1-r4" class="o"><rect x="247.3" y="435.7" width="53" height="12"/><text x="273.8" y="444.1">ReluBackward1</text></g>
<g id="g4-u1-w7" class="p"><rect x="310.3" y="432.3" width="69" height="19"/><text x="344.8" y="440.1">p1.5.layers.1.2.weight</text><text x="344.8" y="446.4">(96)</text></g>
<g id="g4-u1-b7" class="p"><rect x="389.7" y="432.3" width="60.6" height="19"/><text x="420" y="440.1">p1.5.layers.1.2.bias</text><text x="420" y="446.4">(96)</text></g>
<g id="g4-u1-n4" class="o"><rect x="270.3" y="470.7" width="86" height="12"/><text x="313.3" y="479.1">NativeBatchNormBackward</text></g>
<g id="g4-u1-add" class="o"><rect x="226.3" y="504.3" width="52.4" height="12"/><text x="252.5" y="512.7">AddBackward0</text></g>
<g id="g4-u1-mp" class="o"><rect x="201.3" y="540.3" width="103" height="12"/><text x="252.8" y="548.7">MaxPool2DWithIndicesBackward</text></g>
<g id="g4-u1-w8" class="p"><rect x="314.3" y="536.7" width="46" height="19.6"/><text x="337.3" y="544.7">p1.7.0.weight</text><text x="337.3" y="551">(112, 96, 3, 3)</text></g>
<g id="g4-u1-c5" class="o"><rect x="249.3" y="576.7" width="92" height="12"/><text x="295.3" y="585.1">MkldnnConvolutionBackward</text></g>
<g id="g4-u1-r5" class="o"><rect x="268.3" y="613.7" width="53" height="12"/><text x="294.8" y="622.1">ReluBackward1</text></g>
<g id="g4-u1-w9" class="p"><rect x="332.3" y="609.7" width="46" height="19"/><text x="355.3" y="617.5">p1.7.2.weight</text><text x="355.3" y="623.8">(112)</text></g>
<g id="g4-u1-b9" class="p"><rect x="388.3" y="609.7" width="39" height="19"/><text x="407.8" y="617.5">p1.7.2.bias</text><text x="407.8" y="623.8">(112)</text></g>
<g id="g4-u1-n5" class="o"><rect x="312.3" y="649.3" width="86" height="12"/><text x="355.3" y="657.7">NativeBatchNormBackward</text></g>
</g>
<g id="g4-u2" transform="translate(264,796.6)">
<g id="g4-u2-w4" class="p"><rect x="276.3" y="247.3" width="69" height="19"/><text x="310.8" y="255.1">p1.8.layers.0.0.weight</text><text x="310.8" y="261.4">(112, 112, 3, 3)</text></g>
<g id="g4-u2-c3" class="o"><rect x="239.3" y="287.3" width="91.4" height="12"/><text x="285" y="295.7">MkldnnConvolutionBackward</text></g>
<g id="g4-u2-r3" class="o"><rect x="248.3" y="323.3" width="53.7" height="12"/><text x="275.2" y="331.7">ReluBackward1</text></g>
<g id="g4-u2-w5" class="p"><rect x="312.3" y="319.3" width="69" height="19"/><text x="346.8" y="327.1">p1.8.layers.0.2.weight</text><text x="346.8" y="333.4">(112)</text></g>
<g id="g4-u2-b5" class="p"><rect x="391.3" y="319.3" width="61" height="19"/><text x="421.8" y="327.1">p1.8.layers.0.2.bias</text><text x="421.8" y="333.4">(112)</text></g>
<g id="g4-u2-n3" class="o"><rect x="272.3" y="363.3" width="86" height="12"/><text x="315.3" y="371.7">NativeBatchNormBackward</text></g>
<g id="g4-u2-w6" class="p"><rect x="368.3" y="359.3" width="69" height="20"/><text x="402.8" y="367.5">p1.8.layers.1.0.weight</text><text x="402.8" y="373.8">(112, 112, 3, 3)</text></g>
<g id="g4-u2-c4" class="o"><rect x="269.3" y="399.3" width="92" height="12"/><text x="315.3" y="407.7">MkldnnConvolutionBackward</text></g>
<g id="g4-u2-r4" class="o"><rect x="247.3" y="435.7" width="53" height="12"/><text x="273.8" y="444.1">ReluBackward1</text></g>
<g id="g4-u2-w7" class="p"><rect x="310.3" y="432.3" width="69" height="19"/><text x="344.8" y="440.1">p1.8.layers.1.2.weight</text><text x="344.8" y="446.4">(112)</text></g>
<g id="g4-u2-b7" class="p"><rect x="389.7" y="432.3" width="60.6" height="19"/><text x="420" y="440.1">p1.8.layers.1.2.bias</text><text x="420" y="446.4">(112)</text></g>
<g id="g4-u2-n4" class="o"><rect x="270.3" y="470.7" width="86" height="12"/><text x="313.3" y="479.1">NativeBatchNormBackward</text></g>
<g id="g4-u2-add" class="o"><rect x="226.3" y="504.3" width="52.4" height="12"/><text x="252.5" y="512.7">AddBackward0</text></g>
<g id="g4-u2-mp" class="o"><rect x="201.3" y="540.3" width="103" height="12"/><text x="252.8" y="548.7">MaxPool2DWithIndicesBackward</text></g>
<g id="g4-u2-w8" class="p"><rect x="314.3" y="536.7" width="46" height="19.6"/><text x="337.3" y="544.7">p1.10.0.weight</text><text x="337.3" y="551">(128, 112, 3, 3)</text></g>
<g id="g4-u2-c5" class="o"><rect x="249.3" y="576.7" width="92" height="12"/><text x="295.3" y="585.1">MkldnnConvolutionBackward</text></g>
<g id="g4-u2-r5" class="o"><rect x="268.3" y="613.7" width="53" height="12"/><text x="294.8" y="622.1">ReluBackward1</text></g>
<g id="g4-u2-w9" class="p"><rect x="332.3" y="609.7" width="46" height="19"/><text x="355.3" y="617.5">p1.10.2.weight</text><text x="355.3" y="623.8">(128)</text></g>
<g id="g4-u2-b9" class="p"><rect x="388.3" y="609.7" width="39" height="19"/><text x="407.8" y="617.5">p1.10.2.bias</text><text x="407.8" y="623.8">(128)</text></g>
<g id="g4-u2-n5" class="o"><rect x="312.3" y="649.3" width="86" height="12"/><text x="355.3" y="657.7">NativeBatchNormBackward</text></g>
</g>
<g id="g4-u3" transform="translate(396,1194.9)">
<g id="g4-u3-w4" class="p"><rect x="276.3" y="247.3" width="69" height="19"/><text x="310.8" y="255.1">p1.11.layers.0.0.weight</text><text x="310.8" y="261.4">(128, 128, 3, 3)</text></g>
<g id="g4-u3-c3" class="o"><rect x="239.3" y="287.3" width="91.4" height="12"/><text x="285" y="295.7">MkldnnConvolutionBackward</text></g>
<g id="g4-u3-r3" class="o"><rect x="248.3" y="323.3" width="53.7" height="12"/><text x="275.2" y="331.7">ReluBackward1</text></g>
<g id="g4-u3-w5" class="p"><rect x="312.3" y="319.3" width="69" height="19"/><text x="346.8" y="327.1">p1.11.layers.0.2.weight</text><text x="346.8" y="333.4">(128)</text></g>
<g id="g4-u3-b5" class="p"><rect x="391.3" y="319.3" width="61" height="19"/><text x="421.8" y="327.1">p1.11.layers.0.2.bias</text><text x="421.8" y="333.4">(128)</text></g>
<g id="g4-u3-n3" class="o"><rect x="272.3" y="363.3" width="86" height="12"/><text x="315.3" y="371.7">NativeBatchNormBackward</text></g>
<g id="g4-u3-w6" class="p"><rect x="368.3" y="359.3" width="69" height="20"/><text x="402.8" y="367.5">p1.11.layers.1.0.weight</text><text x="402.8" y="373.8">(128, 128, 3, 3)</text></g>
<g id="g4-u3-c4" class="o"><rect x="269.3" y="399.3" width="92" height="12"/><text x="315.3" y="407.7">MkldnnConvolutionBackward</text></g>
<g id="g4-u3-r4" class="o"><rect x="247.3" y="435.7" width="53" height="12"/><text x="273.8" y="444.1">ReluBackward1</text></g>
<g id="g4-u3-w7" class="p"><rect x="310.3" y="432.3" width="69" height="19"/><text x="344.8" y="440.1">p1.11.layers.1.2.weight</text><text x="344.8" y="446.4">(128)</text></g>
<g id="g4-u3-b7" class="p"><rect x="389.7" y="432.3" width="60.6" height="19"/><text x="420" y="440.1">p1.11.layers.1.2.bias</text><text x="420" y="446.4">(128)</text></g>
<g id="g4-u3-n4" class="o"><rect x="270.3" y="470.7" width="86" height="12"/><text x="313.3" y="479.1">NativeBatchNormBackward</text></g>
<g id="g4-u3-add" class="o"><rect x="226.3" y="504.3" width="52.4" height="12"/><text x="252.5" y="512.7">AddBackward0</text></g>
<g id="g4-u3-mp" class="o"><rect x="201.3" y="540.3" width="103" height="12"/><text x="252.8" y="548.7">MaxPool2DWithIndicesBackward</text></g>
<g id="g4-u3-w8" class="p"><rect x="314.3" y="536.7" width="46" height="19.6"/><text x="337.3" y="544.7">p1.13.0.weight</text><text x="337.3" y="551">(10, 128, 3, 3)</text></g>
<g id="g4-u3-c5" class="o"><rect x="249.3" y="576.7" width="92" height="12"/><text x="295.3" y="585.1">MkldnnConvolutionBackward</text></g>
<g id="g4-u3-r5" class="o"><rect x="268.3" y="613.7" width="53" height="12"/><text x="294.8" y="622.1">ReluBackward1</text></g>
<g id="g4-u3-w9" class="p"><rect x="332.3" y="609.7" width="46" height="19"/><text x="355.3" y="617.5">p1.13.2.weight</text><text x="355.3" y="623.8">(10)</text></g>
<g id="g4-u3-b9" class="p"><rect x="388.3" y="609.7" width="39" height="19"/><text x="407.8" y="617.5">p1.13.2.bias</text><text x="407.8" y="623.8">(10)</text></g>
<g id="g4-u3-n5" class="o"><rect x="312.3" y="649.3" width="86" height="12"/><text x="355.3" y="657.7">NativeBatchNormBackward</text></g>
<g id="g4-as" class="a"><rect x="323.3" y="681.7" width="64" height="12"/><text x="355.3" y="690.1">AsStridedBackward</text></g>
</g>
</g>
</g>

<!-- ================= GRAPH 5 (128) ================= -->
<g id="graph128" transform="translate(1571.8,18.3) scale(0.3135)">
<g id="g5-edges" fill="none" stroke="#000" stroke-width="2.9" marker-end="url(#ah)">
<use xlink:href="#EA"/><use xlink:href="#EU"/><use xlink:href="#EU" transform="translate(132,398.3)"/><use xlink:href="#EU" transform="translate(264,796.6)"/><use xlink:href="#EU" transform="translate(396,1194.9)"/><use xlink:href="#EU" transform="translate(528,1593.2)"/><use xlink:href="#EF" transform="translate(528,1593.2)"/>
</g>
<g id="g5-nodes" stroke-width="3.19">
<g id="g5-w0" class="p"><rect x="42.3" y="22.3" width="46" height="20"/><text x="65.3" y="30.5">p1.0.0.weight</text><text x="65.3" y="36.8">(64, 3, 3, 3)</text></g>
<g id="g5-c1" class="o"><rect x="19.3" y="62" width="92" height="12.3"/><text x="65.3" y="70.5">MkldnnConvolutionBackward</text></g>
<g id="g5-r1" class="o"><rect x="38" y="98.7" width="53.3" height="12"/><text x="64.7" y="107.1">ReluBackward1</text></g>
<g id="g5-w1" class="p"><rect x="102.3" y="95.3" width="46" height="19"/><text x="125.3" y="103.1">p1.0.2.weight</text><text x="125.3" y="109.4">(64)</text></g>
<g id="g5-b1" class="p"><rect x="158" y="95.3" width="39" height="19"/><text x="177.5" y="103.1">p1.0.2.bias</text><text x="177.5" y="109.4">(64)</text></g>
<g id="g5-n1" class="o"><rect x="82.3" y="137.7" width="85.7" height="12.3"/><text x="125.2" y="146.1">NativeBatchNormBackward</text></g>
<g id="g5-w2" class="p"><rect x="178.3" y="134.3" width="47" height="20"/><text x="201.8" y="142.5">p1.1.0.weight</text><text x="201.8" y="148.8">(80, 64, 3, 3)</text></g>
<g id="g5-c2" class="o"><rect x="117.3" y="173.7" width="92" height="12.3"/><text x="163.3" y="182.1">MkldnnConvolutionBackward</text></g>
<g id="g5-r2" class="o"><rect x="136.3" y="210.7" width="53" height="12.3"/><text x="162.8" y="219.1">ReluBackward1</text></g>
<g id="g5-w3" class="p"><rect x="200.3" y="207.3" width="46.4" height="19"/><text x="223.5" y="215.1">p1.1.2.weight</text><text x="223.5" y="221.4">(80)</text></g>
<g id="g5-b3" class="p"><rect x="256" y="207.3" width="39.3" height="19"/><text x="275.6" y="215.1">p1.1.2.bias</text><text x="275.6" y="221.4">(80)</text></g>
<g id="g5-n2" class="o"><rect x="180.3" y="251" width="86" height="12"/><text x="223.3" y="259.4">NativeBatchNormBackward</text></g>
<g id="g5-u0">
<g id="g5-u0-w4" class="p"><rect x="276.3" y="247.3" width="69" height="19"/><text x="310.8" y="255.1">p1.2.layers.0.0.weight</text><text x="310.8" y="261.4">(80, 80, 3, 3)</text></g>
<g id="g5-u0-c3" class="o"><rect x="239.3" y="287.3" width="91.4" height="12"/><text x="285" y="295.7">MkldnnConvolutionBackward</text></g>
<g id="g5-u0-r3" class="o"><rect x="248.3" y="323.3" width="53.7" height="12"/><text x="275.2" y="331.7">ReluBackward1</text></g>
<g id="g5-u0-w5" class="p"><rect x="312.3" y="319.3" width="69" height="19"/><text x="346.8" y="327.1">p1.2.layers.0.2.weight</text><text x="346.8" y="333.4">(80)</text></g>
<g id="g5-u0-b5" class="p"><rect x="391.3" y="319.3" width="61" height="19"/><text x="421.8" y="327.1">p1.2.layers.0.2.bias</text><text x="421.8" y="333.4">(80)</text></g>
<g id="g5-u0-n3" class="o"><rect x="272.3" y="363.3" width="86" height="12"/><text x="315.3" y="371.7">NativeBatchNormBackward</text></g>
<g id="g5-u0-w6" class="p"><rect x="368.3" y="359.3" width="69" height="20"/><text x="402.8" y="367.5">p1.2.layers.1.0.weight</text><text x="402.8" y="373.8">(80, 80, 3, 3)</text></g>
<g id="g5-u0-c4" class="o"><rect x="269.3" y="399.3" width="92" height="12"/><text x="315.3" y="407.7">MkldnnConvolutionBackward</text></g>
<g id="g5-u0-r4" class="o"><rect x="247.3" y="435.7" width="53" height="12"/><text x="273.8" y="444.1">ReluBackward1</text></g>
<g id="g5-u0-w7" class="p"><rect x="310.3" y="432.3" width="69" height="19"/><text x="344.8" y="440.1">p1.2.layers.1.2.weight</text><text x="344.8" y="446.4">(80)</text></g>
<g id="g5-u0-b7" class="p"><rect x="389.7" y="432.3" width="60.6" height="19"/><text x="420" y="440.1">p1.2.layers.1.2.bias</text><text x="420" y="446.4">(80)</text></g>
<g id="g5-u0-n4" class="o"><rect x="270.3" y="470.7" width="86" height="12"/><text x="313.3" y="479.1">NativeBatchNormBackward</text></g>
<g id="g5-u0-add" class="o"><rect x="226.3" y="504.3" width="52.4" height="12"/><text x="252.5" y="512.7">AddBackward0</text></g>
<g id="g5-u0-mp" class="o"><rect x="201.3" y="540.3" width="103" height="12"/><text x="252.8" y="548.7">MaxPool2DWithIndicesBackward</text></g>
<g id="g5-u0-w8" class="p"><rect x="314.3" y="536.7" width="46" height="19.6"/><text x="337.3" y="544.7">p1.4.0.weight</text><text x="337.3" y="551">(96, 80, 3, 3)</text></g>
<g id="g5-u0-c5" class="o"><rect x="249.3" y="576.7" width="92" height="12"/><text x="295.3" y="585.1">MkldnnConvolutionBackward</text></g>
<g id="g5-u0-r5" class="o"><rect x="268.3" y="613.7" width="53" height="12"/><text x="294.8" y="622.1">ReluBackward1</text></g>
<g id="g5-u0-w9" class="p"><rect x="332.3" y="609.7" width="46" height="19"/><text x="355.3" y="617.5">p1.4.2.weight</text><text x="355.3" y="623.8">(96)</text></g>
<g id="g5-u0-b9" class="p"><rect x="388.3" y="609.7" width="39" height="19"/><text x="407.8" y="617.5">p1.4.2.bias</text><text x="407.8" y="623.8">(96)</text></g>
<g id="g5-u0-n5" class="o"><rect x="312.3" y="649.3" width="86" height="12"/><text x="355.3" y="657.7">NativeBatchNormBackward</text></g>
</g>
<g id="g5-u1" transform="translate(132,398.3)">
<g id="g5-u1-w4" class="p"><rect x="276.3" y="247.3" width="69" height="19"/><text x="310.8" y="255.1">p1.5.layers.0.0.weight</text><text x="310.8" y="261.4">(96, 96, 3, 3)</text></g>
<g id="g5-u1-c3" class="o"><rect x="239.3" y="287.3" width="91.4" height="12"/><text x="285" y="295.7">MkldnnConvolutionBackward</text></g>
<g id="g5-u1-r3" class="o"><rect x="248.3" y="323.3" width="53.7" height="12"/><text x="275.2" y="331.7">ReluBackward1</text></g>
<g id="g5-u1-w5" class="p"><rect x="312.3" y="319.3" width="69" height="19"/><text x="346.8" y="327.1">p1.5.layers.0.2.weight</text><text x="346.8" y="333.4">(96)</text></g>
<g id="g5-u1-b5" class="p"><rect x="391.3" y="319.3" width="61" height="19"/><text x="421.8" y="327.1">p1.5.layers.0.2.bias</text><text x="421.8" y="333.4">(96)</text></g>
<g id="g5-u1-n3" class="o"><rect x="272.3" y="363.3" width="86" height="12"/><text x="315.3" y="371.7">NativeBatchNormBackward</text></g>
<g id="g5-u1-w6" class="p"><rect x="368.3" y="359.3" width="69" height="20"/><text x="402.8" y="367.5">p1.5.layers.1.0.weight</text><text x="402.8" y="373.8">(96, 96, 3, 3)</text></g>
<g id="g5-u1-c4" class="o"><rect x="269.3" y="399.3" width="92" height="12"/><text x="315.3" y="407.7">MkldnnConvolutionBackward</text></g>
<g id="g5-u1-r4" class="o"><rect x="247.3" y="435.7" width="53" height="12"/><text x="273.8" y="444.1">ReluBackward1</text></g>
<g id="g5-u1-w7" class="p"><rect x="310.3" y="432.3" width="69" height="19"/><text x="344.8" y="440.1">p1.5.layers.1.2.weight</text><text x="344.8" y="446.4">(96)</text></g>
<g id="g5-u1-b7" class="p"><rect x="389.7" y="432.3" width="60.6" height="19"/><text x="420" y="440.1">p1.5.layers.1.2.bias</text><text x="420" y="446.4">(96)</text></g>
<g id="g5-u1-n4" class="o"><rect x="270.3" y="470.7" width="86" height="12"/><text x="313.3" y="479.1">NativeBatchNormBackward</text></g>
<g id="g5-u1-add" class="o"><rect x="226.3" y="504.3" width="52.4" height="12"/><text x="252.5" y="512.7">AddBackward0</text></g>
<g id="g5-u1-mp" class="o"><rect x="201.3" y="540.3" width="103" height="12"/><text x="252.8" y="548.7">MaxPool2DWithIndicesBackward</text></g>
<g id="g5-u1-w8" class="p"><rect x="314.3" y="536.7" width="46" height="19.6"/><text x="337.3" y="544.7">p1.7.0.weight</text><text x="337.3" y="551">(112, 96, 3, 3)</text></g>
<g id="g5-u1-c5" class="o"><rect x="249.3" y="576.7" width="92" height="12"/><text x="295.3" y="585.1">MkldnnConvolutionBackward</text></g>
<g id="g5-u1-r5" class="o"><rect x="268.3" y="613.7" width="53" height="12"/><text x="294.8" y="622.1">ReluBackward1</text></g>
<g id="g5-u1-w9" class="p"><rect x="332.3" y="609.7" width="46" height="19"/><text x="355.3" y="617.5">p1.7.2.weight</text><text x="355.3" y="623.8">(112)</text></g>
<g id="g5-u1-b9" class="p"><rect x="388.3" y="609.7" width="39" height="19"/><text x="407.8" y="617.5">p1.7.2.bias</text><text x="407.8" y="623.8">(112)</text></g>
<g id="g5-u1-n5" class="o"><rect x="312.3" y="649.3" width="86" height="12"/><text x="355.3" y="657.7">NativeBatchNormBackward</text></g>
</g>
<g id="g5-u2" transform="translate(264,796.6)">
<g id="g5-u2-w4" class="p"><rect x="276.3" y="247.3" width="69" height="19"/><text x="310.8" y="255.1">p1.8.layers.0.0.weight</text><text x="310.8" y="261.4">(112, 112, 3, 3)</text></g>
<g id="g5-u2-c3" class="o"><rect x="239.3" y="287.3" width="91.4" height="12"/><text x="285" y="295.7">MkldnnConvolutionBackward</text></g>
<g id="g5-u2-r3" class="o"><rect x="248.3" y="323.3" width="53.7" height="12"/><text x="275.2" y="331.7">ReluBackward1</text></g>
<g id="g5-u2-w5" class="p"><rect x="312.3" y="319.3" width="69" height="19"/><text x="346.8" y="327.1">p1.8.layers.0.2.weight</text><text x="346.8" y="333.4">(112)</text></g>
<g id="g5-u2-b5" class="p"><rect x="391.3" y="319.3" width="61" height="19"/><text x="421.8" y="327.1">p1.8.layers.0.2.bias</text><text x="421.8" y="333.4">(112)</text></g>
<g id="g5-u2-n3" class="o"><rect x="272.3" y="363.3" width="86" height="12"/><text x="315.3" y="371.7">NativeBatchNormBackward</text></g>
<g id="g5-u2-w6" class="p"><rect x="368.3" y="359.3" width="69" height="20"/><text x="402.8" y="367.5">p1.8.layers.1.0.weight</text><text x="402.8" y="373.8">(112, 112, 3, 3)</text></g>
<g id="g5-u2-c4" class="o"><rect x="269.3" y="399.3" width="92" height="12"/><text x="315.3" y="407.7">MkldnnConvolutionBackward</text></g>
<g id="g5-u2-r4" class="o"><rect x="247.3" y="435.7" width="53" height="12"/><text x="273.8" y="444.1">ReluBackward1</text></g>
<g id="g5-u2-w7" class="p"><rect x="310.3" y="432.3" width="69" height="19"/><text x="344.8" y="440.1">p1.8.layers.1.2.weight</text><text x="344.8" y="446.4">(112)</text></g>
<g id="g5-u2-b7" class="p"><rect x="389.7" y="432.3" width="60.6" height="19"/><text x="420" y="440.1">p1.8.layers.1.2.bias</text><text x="420" y="446.4">(112)</text></g>
<g id="g5-u2-n4" class="o"><rect x="270.3" y="470.7" width="86" height="12"/><text x="313.3" y="479.1">NativeBatchNormBackward</text></g>
<g id="g5-u2-add" class="o"><rect x="226.3" y="504.3" width="52.4" height="12"/><text x="252.5" y="512.7">AddBackward0</text></g>
<g id="g5-u2-mp" class="o"><rect x="201.3" y="540.3" width="103" height="12"/><text x="252.8" y="548.7">MaxPool2DWithIndicesBackward</text></g>
<g id="g5-u2-w8" class="p"><rect x="314.3" y="536.7" width="46" height="19.6"/><text x="337.3" y="544.7">p1.10.0.weight</text><text x="337.3" y="551">(128, 112, 3, 3)</text></g>
<g id="g5-u2-c5" class="o"><rect x="249.3" y="576.7" width="92" height="12"/><text x="295.3" y="585.1">MkldnnConvolutionBackward</text></g>
<g id="g5-u2-r5" class="o"><rect x="268.3" y="613.7" width="53" height="12"/><text x="294.8" y="622.1">ReluBackward1</text></g>
<g id="g5-u2-w9" class="p"><rect x="332.3" y="609.7" width="46" height="19"/><text x="355.3" y="617.5">p1.10.2.weight</text><text x="355.3" y="623.8">(128)</text></g>
<g id="g5-u2-b9" class="p"><rect x="388.3" y="609.7" width="39" height="19"/><text x="407.8" y="617.5">p1.10.2.bias</text><text x="407.8" y="623.8">(128)</text></g>
<g id="g5-u2-n5" class="o"><rect x="312.3" y="649.3" width="86" height="12"/><text x="355.3" y="657.7">NativeBatchNormBackward</text></g>
</g>
<g id="g5-u3" transform="translate(396,1194.9)">
<g id="g5-u3-w4" class="p"><rect x="276.3" y="247.3" width="69" height="19"/><text x="310.8" y="255.1">p1.11.layers.0.0.weight</text><text x="310.8" y="261.4">(128, 128, 3, 3)</text></g>
<g id="g5-u3-c3" class="o"><rect x="239.3" y="287.3" width="91.4" height="12"/><text x="285" y="295.7">MkldnnConvolutionBackward</text></g>
<g id="g5-u3-r3" class="o"><rect x="248.3" y="323.3" width="53.7" height="12"/><text x="275.2" y="331.7">ReluBackward1</text></g>
<g id="g5-u3-w5" class="p"><rect x="312.3" y="319.3" width="69" height="19"/><text x="346.8" y="327.1">p1.11.layers.0.2.weight</text><text x="346.8" y="333.4">(128)</text></g>
<g id="g5-u3-b5" class="p"><rect x="391.3" y="319.3" width="61" height="19"/><text x="421.8" y="327.1">p1.11.layers.0.2.bias</text><text x="421.8" y="333.4">(128)</text></g>
<g id="g5-u3-n3" class="o"><rect x="272.3" y="363.3" width="86" height="12"/><text x="315.3" y="371.7">NativeBatchNormBackward</text></g>
<g id="g5-u3-w6" class="p"><rect x="368.3" y="359.3" width="69" height="20"/><text x="402.8" y="367.5">p1.11.layers.1.0.weight</text><text x="402.8" y="373.8">(128, 128, 3, 3)</text></g>
<g id="g5-u3-c4" class="o"><rect x="269.3" y="399.3" width="92" height="12"/><text x="315.3" y="407.7">MkldnnConvolutionBackward</text></g>
<g id="g5-u3-r4" class="o"><rect x="247.3" y="435.7" width="53" height="12"/><text x="273.8" y="444.1">ReluBackward1</text></g>
<g id="g5-u3-w7" class="p"><rect x="310.3" y="432.3" width="69" height="19"/><text x="344.8" y="440.1">p1.11.layers.1.2.weight</text><text x="344.8" y="446.4">(128)</text></g>
<g id="g5-u3-b7" class="p"><rect x="389.7" y="432.3" width="60.6" height="19"/><text x="420" y="440.1">p1.11.layers.1.2.bias</text><text x="420" y="446.4">(128)</text></g>
<g id="g5-u3-n4" class="o"><rect x="270.3" y="470.7" width="86" height="12"/><text x="313.3" y="479.1">NativeBatchNormBackward</text></g>
<g id="g5-u3-add" class="o"><rect x="226.3" y="504.3" width="52.4" height="12"/><text x="252.5" y="512.7">AddBackward0</text></g>
<g id="g5-u3-mp" class="o"><rect x="201.3" y="540.3" width="103" height="12"/><text x="252.8" y="548.7">MaxPool2DWithIndicesBackward</text></g>
<g id="g5-u3-w8" class="p"><rect x="314.3" y="536.7" width="46" height="19.6"/><text x="337.3" y="544.7">p1.13.0.weight</text><text x="337.3" y="551">(144, 128, 3, 3)</text></g>
<g id="g5-u3-c5" class="o"><rect x="249.3" y="576.7" width="92" height="12"/><text x="295.3" y="585.1">MkldnnConvolutionBackward</text></g>
<g id="g5-u3-r5" class="o"><rect x="268.3" y="613.7" width="53" height="12"/><text x="294.8" y="622.1">ReluBackward1</text></g>
<g id="g5-u3-w9" class="p"><rect x="332.3" y="609.7" width="46" height="19"/><text x="355.3" y="617.5">p1.13.2.weight</text><text x="355.3" y="623.8">(144)</text></g>
<g id="g5-u3-b9" class="p"><rect x="388.3" y="609.7" width="39" height="19"/><text x="407.8" y="617.5">p1.13.2.bias</text><text x="407.8" y="623.8">(144)</text></g>
<g id="g5-u3-n5" class="o"><rect x="312.3" y="649.3" width="86" height="12"/><text x="355.3" y="657.7">NativeBatchNormBackward</text></g>
</g>
<g id="g5-u4" transform="translate(528,1593.2)">
<g id="g5-u4-w4" class="p"><rect x="276.3" y="247.3" width="69" height="19"/><text x="310.8" y="255.1">p1.14.layers.0.0.weight</text><text x="310.8" y="261.4">(144, 144, 3, 3)</text></g>
<g id="g5-u4-c3" class="o"><rect x="239.3" y="287.3" width="91.4" height="12"/><text x="285" y="295.7">MkldnnConvolutionBackward</text></g>
<g id="g5-u4-r3" class="o"><rect x="248.3" y="323.3" width="53.7" height="12"/><text x="275.2" y="331.7">ReluBackward1</text></g>
<g id="g5-u4-w5" class="p"><rect x="312.3" y="319.3" width="69" height="19"/><text x="346.8" y="327.1">p1.14.layers.0.2.weight</text><text x="346.8" y="333.4">(144)</text></g>
<g id="g5-u4-b5" class="p"><rect x="391.3" y="319.3" width="61" height="19"/><text x="421.8" y="327.1">p1.14.layers.0.2.bias</text><text x="421.8" y="333.4">(144)</text></g>
<g id="g5-u4-n3" class="o"><rect x="272.3" y="363.3" width="86" height="12"/><text x="315.3" y="371.7">NativeBatchNormBackward</text></g>
<g id="g5-u4-w6" class="p"><rect x="368.3" y="359.3" width="69" height="20"/><text x="402.8" y="367.5">p1.14.layers.1.0.weight</text><text x="402.8" y="373.8">(144, 144, 3, 3)</text></g>
<g id="g5-u4-c4" class="o"><rect x="269.3" y="399.3" width="92" height="12"/><text x="315.3" y="407.7">MkldnnConvolutionBackward</text></g>
<g id="g5-u4-r4" class="o"><rect x="247.3" y="435.7" width="53" height="12"/><text x="273.8" y="444.1">ReluBackward1</text></g>
<g id="g5-u4-w7" class="p"><rect x="310.3" y="432.3" width="69" height="19"/><text x="344.8" y="440.1">p1.14.layers.1.2.weight</text><text x="344.8" y="446.4">(144)</text></g>
<g id="g5-u4-b7" class="p"><rect x="389.7" y="432.3" width="60.6" height="19"/><text x="420" y="440.1">p1.14.layers.1.2.bias</text><text x="420" y="446.4">(144)</text></g>
<g id="g5-u4-n4" class="o"><rect x="270.3" y="470.7" width="86" height="12"/><text x="313.3" y="479.1">NativeBatchNormBackward</text></g>
<g id="g5-u4-add" class="o"><rect x="226.3" y="504.3" width="52.4" height="12"/><text x="252.5" y="512.7">AddBackward0</text></g>
<g id="g5-u4-mp" class="o"><rect x="201.3" y="540.3" width="103" height="12"/><text x="252.8" y="548.7">MaxPool2DWithIndicesBackward</text></g>
<g id="g5-u4-w8" class="p"><rect x="314.3" y="536.7" width="46" height="19.6"/><text x="337.3" y="544.7">p1.16.0.weight</text><text x="337.3" y="551">(10, 144, 3, 3)</text></g>
<g id="g5-u4-c5" class="o"><rect x="249.3" y="576.7" width="92" height="12"/><text x="295.3" y="585.1">MkldnnConvolutionBackward</text></g>
<g id="g5-u4-r5" class="o"><rect x="268.3" y="613.7" width="53" height="12"/><text x="294.8" y="622.1">ReluBackward1</text></g>
<g id="g5-u4-w9" class="p"><rect x="332.3" y="609.7" width="46" height="19"/><text x="355.3" y="617.5">p1.16.2.weight</text><text x="355.3" y="623.8">(10)</text></g>
<g id="g5-u4-b9" class="p"><rect x="388.3" y="609.7" width="39" height="19"/><text x="407.8" y="617.5">p1.16.2.bias</text><text x="407.8" y="623.8">(10)</text></g>
<g id="g5-u4-n5" class="o"><rect x="312.3" y="649.3" width="86" height="12"/><text x="355.3" y="657.7">NativeBatchNormBackward</text></g>
<g id="g5-as" class="a"><rect x="323.3" y="681.7" width="64" height="12"/><text x="355.3" y="690.1">AsStridedBackward</text></g>
</g>
</g>
</g>

<!-- ================= Captions ================= -->
<g id="captions">
<text class="num" x="201" y="828">64</text>
<text class="num" x="782" y="874">80</text>
<text class="num" x="1061" y="898">96</text>
<text class="num" x="1349" y="892">112</text>
<text class="num" x="1742" y="919">128</text>
</g>
</svg>
